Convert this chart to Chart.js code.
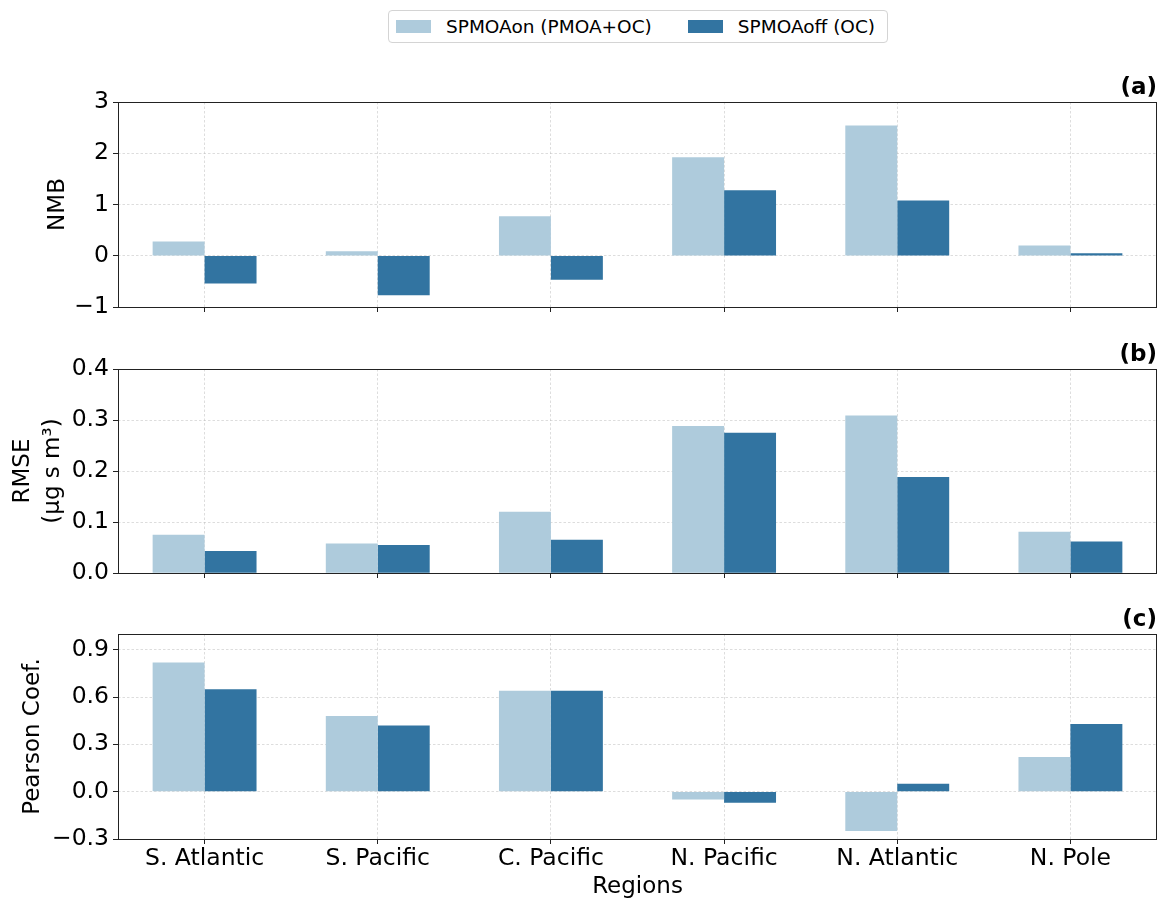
<!DOCTYPE html>
<html>
<head>
<meta charset="utf-8">
<script src="https://cdn.jsdelivr.net/npm/chart.js@4/dist/chart.umd.min.js"></script>
<style>
  body { margin: 0; background: #fff; width: 1161px; height: 900px; position: relative; overflow: hidden; font-family: 'DejaVu Sans', sans-serif; }
  canvas { position: absolute; left: 0; }
  #legend { position: absolute; left: 388px; top: 10px; width: 500px; height: 33px; box-sizing: border-box;
            border: 1px solid #d4d4d4; border-radius: 4px; display: flex; align-items: center; padding-left: 7px;
            font-size: 18.5px; color: #000; white-space: nowrap; }
  .item { display: flex; align-items: center; margin-right: 36px; flex-shrink: 0; }
  .swatch { width: 35px; height: 13px; margin-right: 15px; flex-shrink: 0; }
</style>
</head>
<body>
<div id="legend"></div>
<canvas id="panelA"></canvas>
<canvas id="panelB"></canvas>
<canvas id="panelC"></canvas>
<script>
// Regions and series
const regions = ['S. Atlantic', 'S. Pacific', 'C. Pacific', 'N. Pacific', 'N. Atlantic', 'N. Pole'];
const seriesNames = ['SPMOAon (PMOA+OC)', 'SPMOAoff (OC)'];
const seriesColors = ['#aecbdc', '#3274a1'];

// (a) normalized mean bias
const nmbOn  = [0.28, 0.09, 0.77, 1.92, 2.54, 0.20];
const nmbOff = [-0.54, -0.77, -0.47, 1.28, 1.08, 0.05];
// (b) root mean square error
const rmseOn  = [0.075, 0.058, 0.120, 0.288, 0.309, 0.081];
const rmseOff = [0.043, 0.055, 0.065, 0.275, 0.188, 0.062];
// (c) Pearson correlation coefficient
const pearsonOn  = [0.82, 0.48, 0.64, -0.05, -0.25, 0.22];
const pearsonOff = [0.65, 0.42, 0.64, -0.07, 0.05, 0.43];

// Axis ticks
const nmbTicks = [-1, 0, 1, 2, 3];
const rmseTicks = [0.0, 0.1, 0.2, 0.3, 0.4];
const pearsonTicks = [-0.3, 0.0, 0.3, 0.6, 0.9];

const FONT = "'DejaVu Sans', sans-serif";
const FS = 23;
const TICK_FS = 23.5;
const GRID_COLOR = 'rgba(185,185,185,0.7)';
const SPINE_COLOR = '#222';

// HTML legend built from the series
const legendEl = document.getElementById('legend');
seriesNames.forEach((name, i) => {
  const it = document.createElement('div');
  it.className = 'item';
  const sw = document.createElement('div');
  sw.className = 'swatch';
  sw.style.background = seriesColors[i];
  const tx = document.createElement('span');
  tx.textContent = name;
  it.appendChild(sw); it.appendChild(tx);
  legendEl.appendChild(it);
});

// Frame around the plotting area (all four spines)
const framePlugin = {
  id: 'frame',
  afterDraw(chart) {
    const { ctx, chartArea: a } = chart;
    ctx.save();
    ctx.strokeStyle = SPINE_COLOR;
    ctx.lineWidth = 1;
    ctx.strokeRect(Math.round(a.left) + 0.5, Math.round(a.top) + 0.5,
                   Math.round(a.right - a.left) - 1, Math.round(a.bottom - a.top));
    ctx.restore();
  }
};

// Panel tag, e.g. "(a)", at the top-right corner
const tagPlugin = {
  id: 'tag',
  afterDraw(chart, args, opts) {
    const { ctx, chartArea: a } = chart;
    ctx.save();
    ctx.font = 'bold ' + FS + 'px ' + FONT;
    ctx.fillStyle = '#000';
    ctx.textAlign = 'right';
    ctx.textBaseline = 'bottom';
    ctx.fillText(opts.text, a.right, a.top - 2);
    ctx.restore();
  }
};

function fmt(v, decimals) {
  return v.toFixed(decimals).replace('-', '\u2212');
}

function makePanel(cfg) {
  const cv = document.getElementById(cfg.id);
  cv.width = 1161;
  cv.height = cfg.height;
  cv.style.top = cfg.top + 'px';
  const xHeight = cfg.top + cfg.height - cfg.areaBottom;
  return new Chart(cv, {
    type: 'bar',
    data: {
      labels: regions,
      datasets: [
        { label: seriesNames[0], data: cfg.on, backgroundColor: seriesColors[0],
          categoryPercentage: 0.6, barPercentage: 1.0, borderWidth: 0 },
        { label: seriesNames[1], data: cfg.off, backgroundColor: seriesColors[1],
          categoryPercentage: 0.6, barPercentage: 1.0, borderWidth: 0 }
      ]
    },
    options: {
      responsive: false,
      animation: false,
      devicePixelRatio: 1,
      layout: { padding: { top: cfg.areaTop - cfg.top, right: 4, left: 0, bottom: 0 } },
      plugins: {
        legend: { display: false },
        tooltip: { enabled: false },
        tag: { text: cfg.tag }
      },
      scales: {
        x: {
          type: 'category',
          offset: true,
          z: 1,
          grid: { offset: false, color: GRID_COLOR, lineWidth: 0.7, tickColor: SPINE_COLOR,
                  tickLength: 5, tickWidth: 1, tickBorderDash: [] },
          border: { display: false, dash: [2.5, 2] },
          ticks: { display: cfg.showX, color: '#000', font: { family: FONT, size: TICK_FS }, padding: 1,
                   maxRotation: 0, autoSkip: false },
          title: { display: cfg.showX, text: 'Regions', color: '#000',
                   font: { family: FONT, size: FS, lineHeight: 1.1 }, padding: { top: 0, bottom: 0 } },
          afterFit(s) { s.height = xHeight; }
        },
        y: {
          type: 'linear',
          min: cfg.min,
          max: cfg.max,
          z: 1,
          afterBuildTicks(s) { s.ticks = cfg.ticks.map(v => ({ value: v })); },
          grid: { color: GRID_COLOR, lineWidth: 0.7, tickColor: SPINE_COLOR,
                  tickLength: 5, tickWidth: 1, tickBorderDash: [] },
          border: { display: false, dash: [2.5, 2] },
          ticks: { color: '#000', font: { family: FONT, size: TICK_FS }, padding: 4,
                   callback: v => fmt(v, cfg.decimals) },
          title: { display: true, text: cfg.yTitle, color: '#000',
                   font: { family: FONT, size: FS, lineHeight: cfg.titleLH },
                   padding: { top: cfg.titlePad, bottom: 0 } },
          afterFit(s) { s.width = 118; }
        }
      }
    },
    plugins: [framePlugin, tagPlugin]
  });
}

makePanel({ id: 'panelA', top: 60, height: 272, areaTop: 102, areaBottom: 307,
  on: nmbOn, off: nmbOff, min: -1, max: 3, ticks: nmbTicks, decimals: 0,
  yTitle: 'NMB', titlePad: 44, titleLH: 1.2, tag: '(a)', showX: false });

makePanel({ id: 'panelB', top: 330, height: 272, areaTop: 369, areaBottom: 573,
  on: rmseOn, off: rmseOff, min: 0, max: 0.4, ticks: rmseTicks, decimals: 1,
  yTitle: ['RMSE', '(\u03BCg s m\u00B3)'], titlePad: 8, titleLH: 1.3, tag: '(b)', showX: false });

makePanel({ id: 'panelC', top: 600, height: 300, areaTop: 634, areaBottom: 839,
  on: pearsonOn, off: pearsonOff, min: -0.3, max: 1.0, ticks: pearsonTicks, decimals: 1,
  yTitle: 'Pearson Coef.', titlePad: 19, titleLH: 1.2, tag: '(c)', showX: true });
</script>
</body>
</html>
